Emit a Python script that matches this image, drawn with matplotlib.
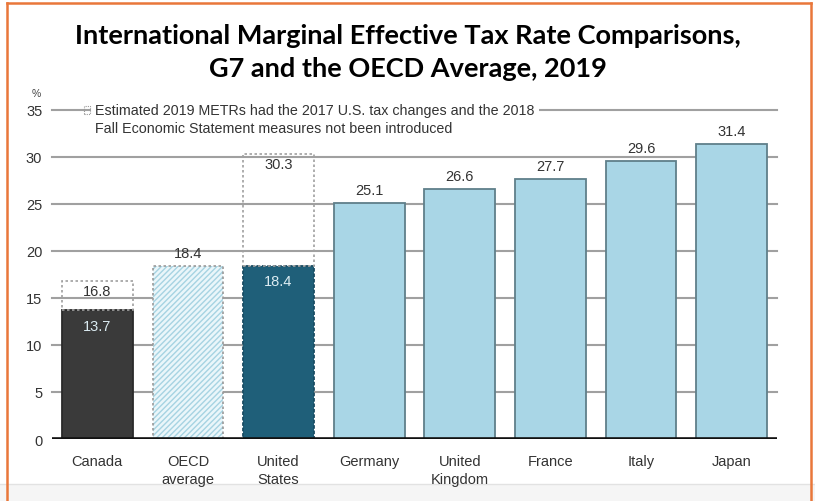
import matplotlib.pyplot as plt
from matplotlib.patches import Rectangle
from matplotlib.lines import Line2D

countries = ['Canada', 'OECD\naverage', 'United\nStates', 'Germany', 'United\nKingdom',
             'France', 'Italy', 'Japan']
metr_2019 = [13.7, 18.4, 18.4, 25.1, 26.6, 27.7, 29.6, 31.4]
# counterfactual METRs (dotted boxes) for Canada and the U.S.
counterfactual = {0: 16.8, 2: 30.3}
yticks = [0, 5, 10, 15, 20, 25, 30, 35]

light_blue = '#a9d6e6'
bar_colors = ['#3a3a3a', '#eaf6fa', '#1f5f79'] + [light_blue] * 5
edge_color = '#5f7f8a'
font = 'Liberation Sans'

fig = plt.figure(figsize=(8.15, 5.02), dpi=100)
ax = fig.add_axes([0.0638, 0.1235, 0.8895, 0.6555])

x = range(len(countries))
w = 0.78
bars = ax.bar(x, metr_2019, width=w, color=bar_colors, edgecolor=edge_color,
              linewidth=1.3, zorder=3)
bars[0].set_edgecolor('#2a2a2a')
bars[2].set_edgecolor('#1a4d63')
bars[2].set_linestyle((0, (2, 1)))
# OECD bar: hatch colour comes from the edge colour, so draw the border separately
bars[1].set_edgecolor('#a6d3e2')
bars[1].set_linewidth(0)
bars[1].set_hatch('//////')
ax.add_patch(Rectangle((1 - w / 2, 0), w, metr_2019[1], fill=False, edgecolor='#9a9a9a',
                       linestyle=(0, (1.5, 1.5)), linewidth=1.2, zorder=4))

# dotted boxes showing rates without the 2017 / 2018 changes
for i, top in counterfactual.items():
    base = metr_2019[i]
    ax.add_patch(Rectangle((i - w / 2, base), w, top - base, fill=False,
                           edgecolor='#a0a0a0', linestyle=(0, (1.5, 1.5)),
                           linewidth=1.2, zorder=4))
    ax.text(i, top - 0.35, f'{top}', ha='center', va='top', fontsize=10.5,
            color='#333333', family=font, zorder=5)

for i, v in enumerate(metr_2019):
    if i in (0, 2):
        ax.text(i, v - 0.9, f'{v}', ha='center', va='top', fontsize=10.5,
                color='#dcecf2', family=font, zorder=5)
    else:
        ax.text(i, v + 0.6, f'{v}', ha='center', va='bottom', fontsize=10.5,
                color='#333333', family=font, zorder=5)

ax.set_xlim(-0.5, 7.5)
ax.set_ylim(0, 35)
ax.set_yticks(yticks)
ax.set_yticklabels([str(t) for t in yticks], family=font, fontsize=10.5, color='#333333')
ax.set_xticks(list(x))
ax.set_xticklabels(countries, family=font, fontsize=10.5, color='#333333',
                   linespacing=1.35, va='top')
ax.tick_params(axis='both', length=0)
ax.tick_params(axis='y', pad=7)
ax.tick_params(axis='x', pad=11)
for t in yticks[1:]:
    ax.axhline(t, color='#a0a0a0', linewidth=1.5, zorder=1, clip_on=False)
ax.axhline(0, color='#111111', linewidth=2.6, zorder=6)
for s in ax.spines.values():
    s.set_visible(False)
ax.set_facecolor('none')

ax.text(-0.67, 36.3, '%', fontsize=7.5, color='#444444', family=font,
        ha='center', va='bottom')

# note sitting on the 35 gridline
note = ('Estimated 2019 METRs had the 2017 U.S. tax changes and the 2018\n'
        'Fall Economic Statement measures not been introduced')
ax.text(-0.02, 35.7, note, fontsize=10.3, color='#333333', family=font,
        ha='left', va='top', linespacing=1.3, zorder=7,
        bbox=dict(boxstyle='square,pad=0.3', fc='white', ec='none'))
ax.add_patch(Rectangle((-0.15, 34.55), 0.07, 0.85, fill=False, edgecolor='#999999',
                       linestyle=(0, (1, 1)), linewidth=0.8, zorder=8, clip_on=False))

fig.text(0.5, 1 - 36 / 502, 'International Marginal Effective Tax Rate Comparisons,',
         ha='center', va='center', fontsize=19.5, fontweight='bold', family='Lato')
fig.text(0.5, 1 - 69 / 502, 'G7 and the OECD Average, 2019',
         ha='center', va='center', fontsize=19.5, fontweight='bold', family='Lato')

# page frame
fig.patches.append(Rectangle((0, 0), 1, 1 - 485 / 502, transform=fig.transFigure,
                             facecolor='#f5f5f5', edgecolor='none', zorder=-10))
fig.lines.append(Line2D([0, 1], [1 - 485 / 502] * 2, transform=fig.transFigure,
                        color='#e2e2e2', linewidth=1, zorder=-9))
orange = '#e9773a'
fig.lines.append(Line2D([7 / 815, 7 / 815], [0, 1 - 4 / 502], transform=fig.transFigure,
                        color=orange, linewidth=1.8))
fig.lines.append(Line2D([811 / 815, 811 / 815], [0, 1 - 4 / 502], transform=fig.transFigure,
                        color=orange, linewidth=1.8))
fig.lines.append(Line2D([7 / 815, 811 / 815], [1 - 4 / 502] * 2, transform=fig.transFigure,
                        color=orange, linewidth=1.8))

fig.savefig('out.png', dpi=100)
